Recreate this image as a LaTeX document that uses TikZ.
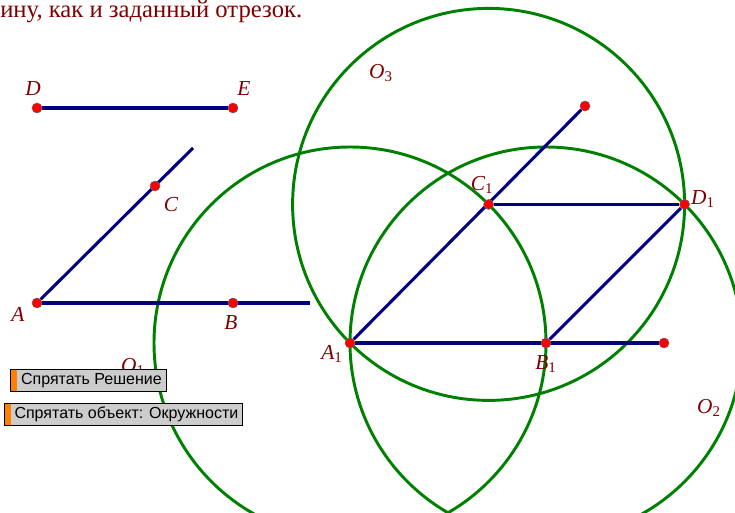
\documentclass[tikz,border=0pt]{standalone}
\usepackage{fontspec}
\setmainfont{Liberation Serif}
\setsansfont{Liberation Sans}
\usetikzlibrary{backgrounds}

\definecolor{lineblue}{RGB}{0,0,128}
\definecolor{circgreen}{RGB}{0,128,0}
\definecolor{lblred}{RGB}{128,0,0}
\definecolor{btnorange}{RGB}{255,128,0}
\newcommand{\lsub}[1]{\textsubscript{\upshape #1}}

\begin{document}
\begin{tikzpicture}[x=0.75pt, y=-0.75pt,
    pt/.style={circle, draw=black!60, fill=red, inner sep=0pt, minimum size=7.5pt, line width=0.4pt},
    seg/.style={draw=lineblue, line width=2.3pt},
    circ/.style={draw=circgreen, line width=2.2pt},
    lbl/.style={text=lblred, font=\fontsize{16}{18}\selectfont\itshape, inner sep=0pt},
    btn/.style={draw=black, line width=1.1pt, fill=gray!40, inner sep=0pt,
                font=\sffamily\fontsize{12}{14}\selectfont, minimum height=16.5pt,
                path picture={\fill[btnorange] (path picture bounding box.north west)
                  rectangle ([xshift=4.5pt]path picture bounding box.south west);}}
  ]
  \useasboundingbox (0,0) rectangle (735,513);

  % given segment and angle
  \node[pt] (D) at (37,108) {};
  \node[pt] (E) at (233,108) {};
  \node[pt] (A) at (37,303) {};
  \node[pt] (B) at (233,303) {};
  \node[pt] (C) at (155,186) {};
  \coordinate (Aend) at (310,303);
  \coordinate (Cend) at (193,148);

  % construction
  \node[pt] (A1) at (350,343) {};
  \node[pt] (B1) at (546,343) {};
  \node[pt] (C1) at (488.6,204.4) {};
  \node[pt] (D1) at (684.6,204.4) {};
  \node[pt] (A1end) at (664,343) {};
  \node[pt] (C1end) at (585,106) {};

  \begin{scope}[on background layer]
    \clip (0,0) rectangle (735,513);
    \draw[circ] (A1) circle (196);
    \draw[circ] (B1) circle (196);
    \draw[circ] (C1) circle (196);
    \draw[seg] (D) -- (E);
    \draw[seg] (A) -- (Aend);
    \draw[seg] (A) -- (Cend);
    \draw[seg] (A1) -- (A1end);
    \draw[seg] (A1) -- (C1end);
    \draw[seg] (C1) -- (D1);
    \draw[seg] (B1) -- (D1);
  \end{scope}

  % labels
  \node[anchor=base west, text=lblred, font=\fontsize{18.5}{21}\selectfont, inner sep=0pt] (title) at (0,18) {ину, как и заданный отрезок.};
  \node[lbl] (lD) at (33,89) {D};
  \node[lbl] (lE) at (244,89) {E};
  \node[lbl] (lC) at (171,205) {C};
  \node[lbl] (lA) at (18,314) {A};
  \node[lbl] (lB) at (231,323) {B};
  \node[lbl] (lC1) at (482,185) {C\lsub{1}};
  \node[lbl] (lD1) at (703,199) {D\lsub{1}};
  \node[lbl] (lA1) at (332,354) {A\lsub{1}};
  \node[lbl] (lB1) at (546,364) {B\lsub{1}};
  \node[lbl] (lO1) at (133,367) {O\lsub{1}};
  \node[lbl] (lO2) at (709,408) {O\lsub{2}};
  \node[lbl] (lO3) at (381,73) {O\lsub{3}};

  % buttons
  \node[btn, anchor=north west, minimum width=117pt] (hideSol) at (10,369) {\hspace{4pt}Спрятать Решение};
  \node[btn, anchor=north west, minimum width=178.5pt] (hideCirc) at (4,403) {\hspace{4pt}Спрятать объект: Окружности};
\end{tikzpicture}
\end{document}
